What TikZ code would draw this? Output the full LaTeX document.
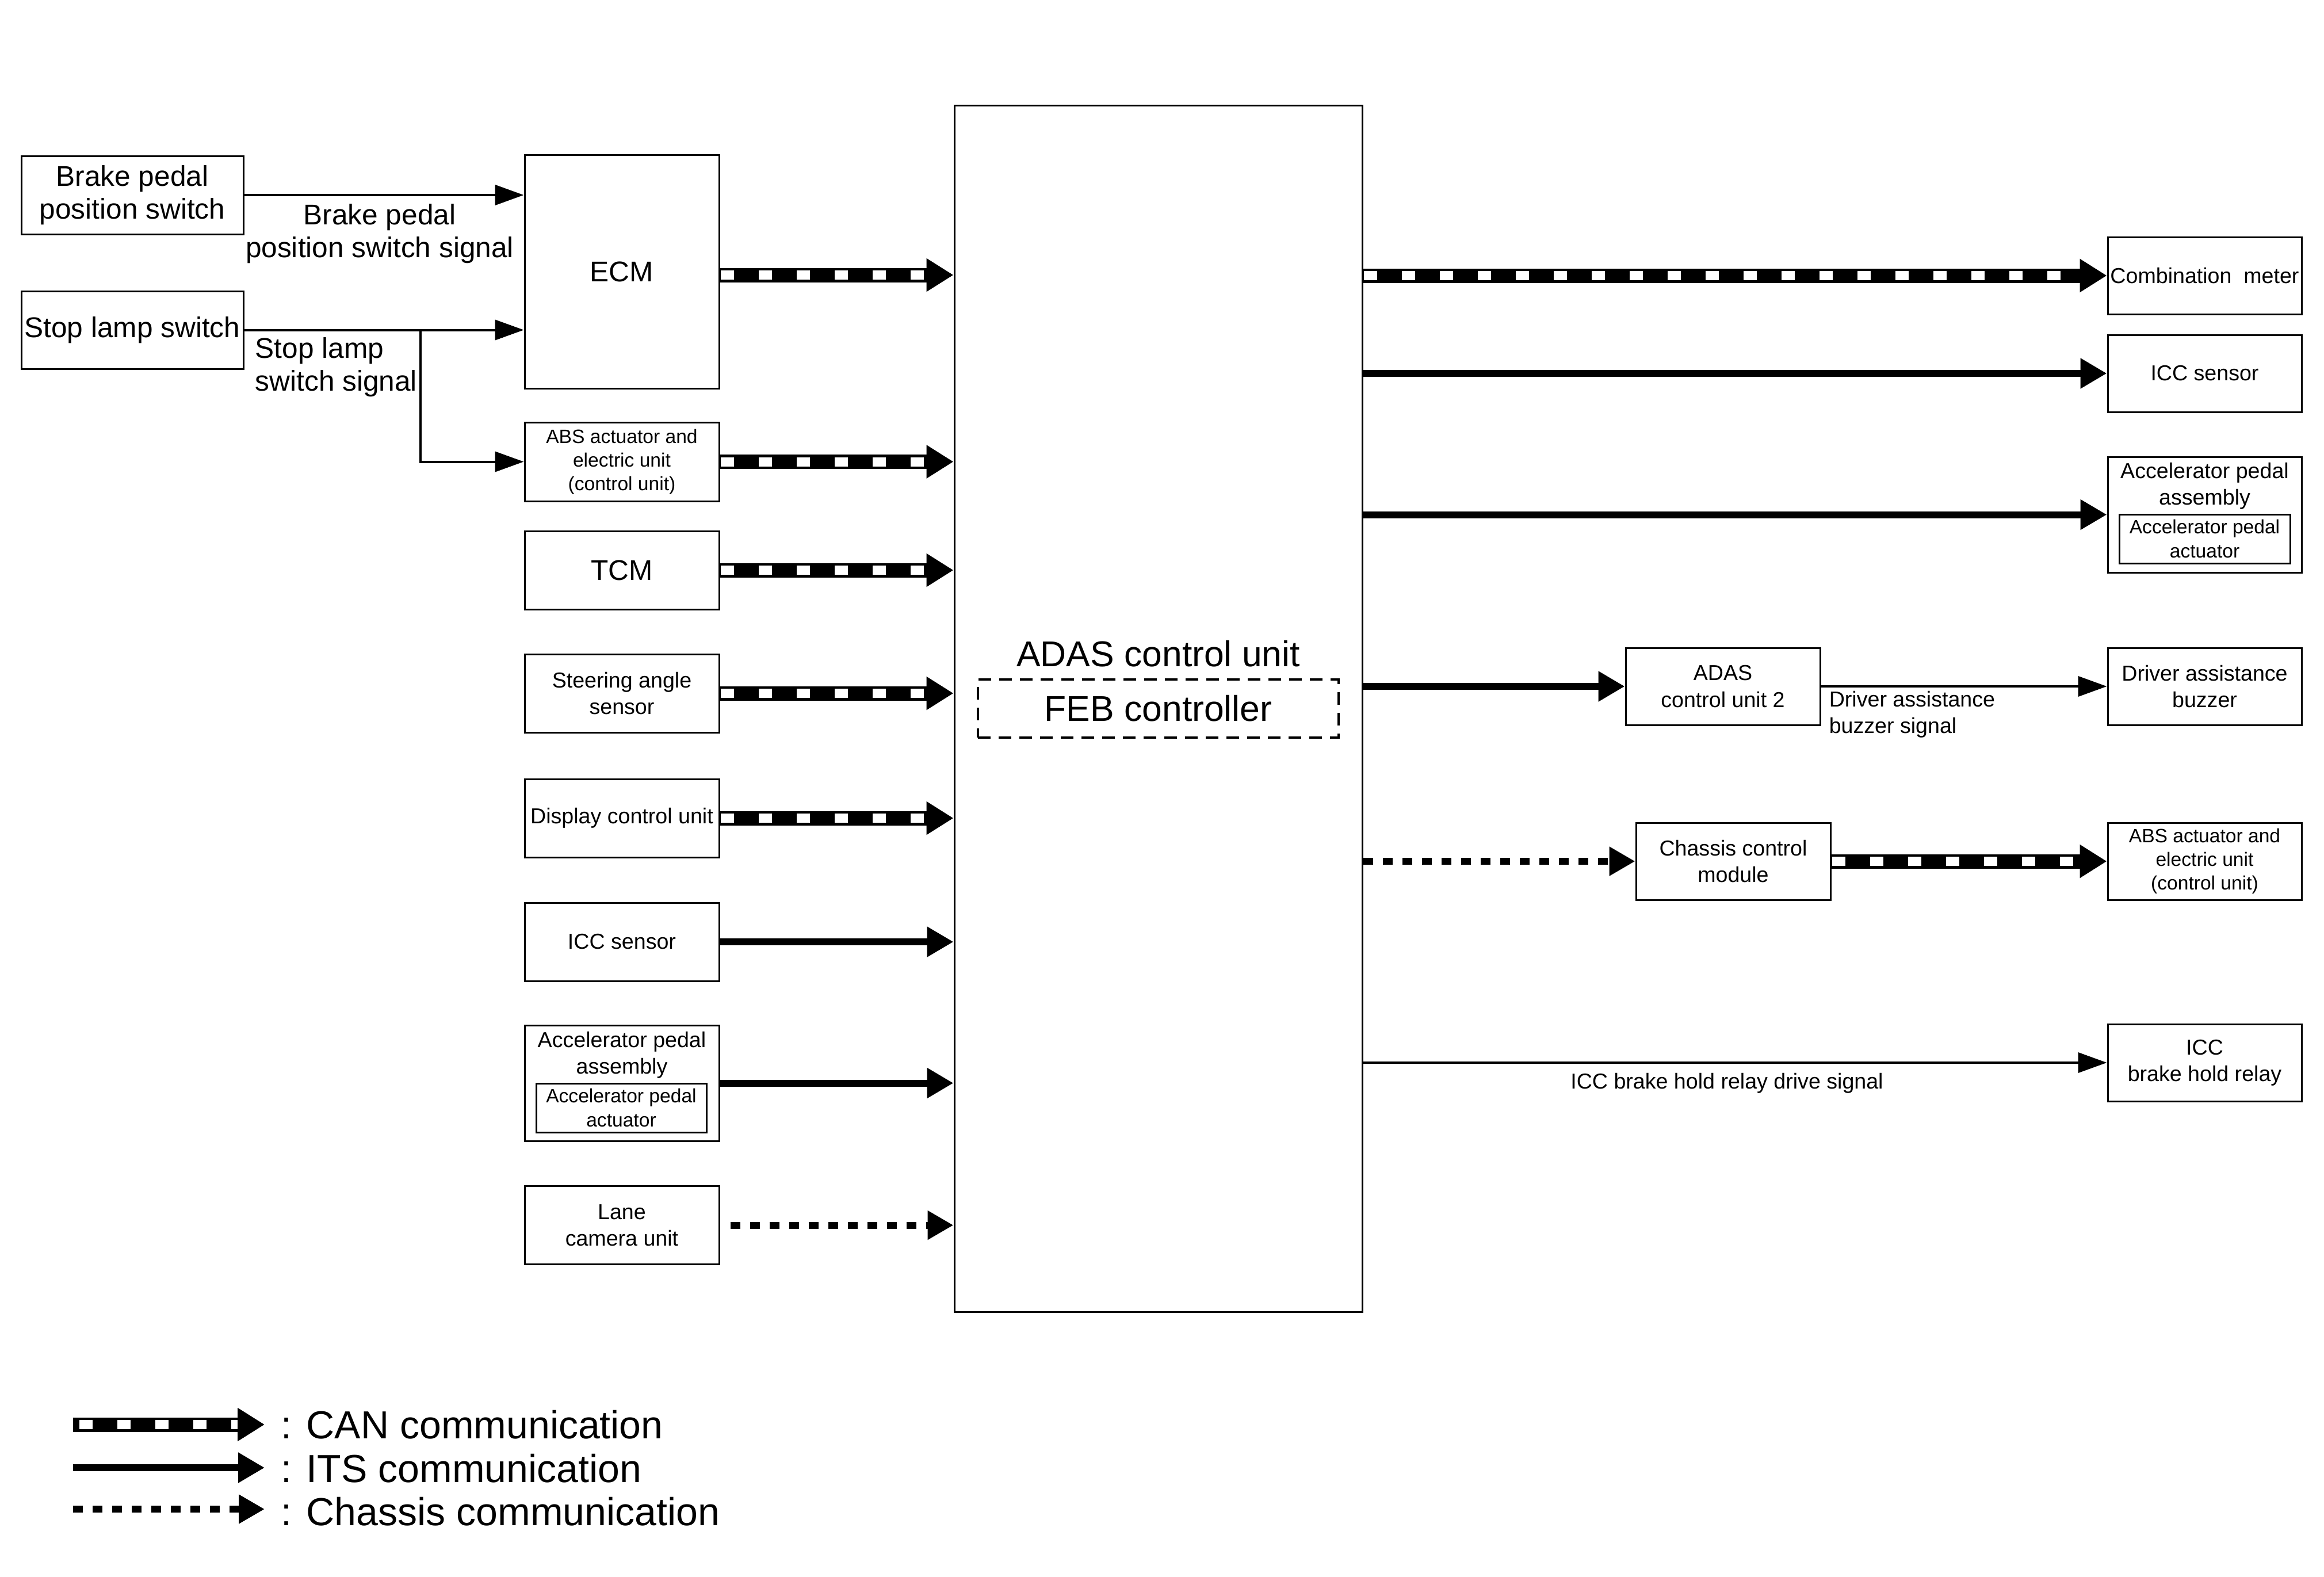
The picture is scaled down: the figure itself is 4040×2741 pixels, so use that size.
\documentclass[tikz,border=0pt]{standalone}
\usepackage{fontspec}
\setmainfont{Liberation Sans}
\usetikzlibrary{arrows.meta,calc}
\newcommand\szL{\fontsize{12.4pt}{14.25pt}\selectfont}
\newcommand\szM{\fontsize{9.4pt}{11.6pt}\selectfont}
\newcommand\szS{\fontsize{8.4pt}{10.3pt}\selectfont}
\newcommand\szA{\fontsize{15.6pt}{18pt}\selectfont}
\newcommand\szG{\fontsize{17pt}{20pt}\selectfont}
\tikzset{
  box/.style={draw, line width=0.75pt, inner sep=0pt, align=center, minimum width=84.5pt, minimum height=34pt},
  txt/.style={inner sep=0pt},
  thinarr/.style={line width=1pt, -{Triangle[length=12.5pt,width=8.75pt]}},
  its/.style={line width=3pt, -{Triangle[length=11.5pt,width=12.5pt]}},
  chas/.style={line width=3pt, dash pattern=on 4.25pt off 4.25pt, -{Triangle[length=11.25pt,width=12pt]}},
  canblk/.style={line width=6.25pt, -{Triangle[length=11.75pt,width=13.75pt]}},
  canwht/.style={line width=4pt, white, dash pattern=on 5.75pt off 10.75pt, shorten >=11.75pt, shorten <=0.4pt},
  febbox/.style={draw, line width=0.8pt, dash pattern=on 5.5pt off 3.5pt, inner sep=0pt, minimum width=156.75pt, minimum height=25.25pt}
}
\begin{document}
\begin{tikzpicture}[x=0.25pt,y=-0.25pt]
\useasboundingbox (0,0) rectangle (4040,2741);

% ---------- left column ----------
\node[box, minimum width=96.5pt, font=\szL] (brake) at (230,339) {Brake pedal\\position switch};
\node[box, minimum width=96.5pt, minimum height=33.75pt, font=\szL] (stop) at (230,573.5) {Stop lamp switch};
\node[box, minimum height=101.5pt, font=\szL] (ecm) at (1081,472) {ECM};
\node[box, minimum height=34.25pt, font=\szS] (absL) at (1081,802.5) {ABS actuator and\\electric unit\\(control unit)};
\node[box, font=\szL] (tcm) at (1081,991) {TCM};
\node[box, font=\szM] (steer) at (1081,1205) {Steering angle\\sensor};
\node[box, font=\szM] (disp) at (1081,1422) {Display control unit};
\node[box, font=\szM] (iccL) at (1081,1637) {ICC sensor};
\node[box, minimum height=50.25pt] (accL) at (1081,1882.5) {};
\node[txt, font=\szM, align=center] (accLt) at (1081,1834) {Accelerator pedal\\assembly};
\node[box, minimum width=74pt, minimum height=21.25pt, font=\szS] (accLi) at (1080,1925.5) {Accelerator pedal\\actuator};
\node[box, font=\szM] (lane) at (1081,2129.5) {Lane\\camera unit};

% ---------- ADAS control unit ----------
\node[box, minimum width=177.25pt, minimum height=524.25pt] (adas) at (2013.5,1231.5) {};
\node[txt, font=\szA] (adast) at (2013.5,1136) {ADAS control unit};
\node[febbox, font=\szA] (feb) at (2013.5,1231.5) {FEB controller};

% ---------- right column ----------
\node[box, minimum width=84.25pt, minimum height=33.5pt, font=\szM] (comb) at (3832.5,479) {Combination\ \ meter};
\node[box, minimum width=84.25pt, minimum height=33.5pt, font=\szM] (iccR) at (3832.5,649) {ICC sensor};
\node[box, minimum width=84.25pt, minimum height=50.25pt] (accR) at (3832.5,894.5) {};
\node[txt, font=\szM, align=center] (accRt) at (3832.5,845) {Accelerator pedal\\assembly};
\node[box, minimum width=74.25pt, minimum height=21.25pt, font=\szS] (accRi) at (3832.5,936.5) {Accelerator pedal\\actuator};
\node[box, minimum height=33.5pt, font=\szM] (adas2) at (2995,1193) {ADAS\\control unit 2};
\node[box, minimum width=84.25pt, minimum height=33.5pt, font=\szM] (buzz) at (3832.5,1193) {Driver assistance\\buzzer};
\node[box, minimum height=33.5pt, font=\szM] (ccm) at (3013,1497) {Chassis control\\module};
\node[box, minimum width=84.25pt, minimum height=33.5pt, font=\szS] (absR) at (3832.5,1497) {ABS actuator and\\electric unit\\(control unit)};
\node[box, minimum width=84.25pt, minimum height=33.5pt, font=\szM] (relay) at (3832.5,1847) {ICC\\brake hold relay};

% ---------- labels ----------
\node[txt, font=\szL, align=center] (lbl1) at (660,406) {Brake pedal\\position switch signal};
\node[txt, font=\szL, align=left, anchor=west] (lbl2) at (443,638) {Stop lamp\\switch signal};
\node[txt, font=\szM, align=left, anchor=west] (lbl3) at (3179,1242) {Driver assistance\\buzzer signal};
\node[txt, font=\szM] (lbl4) at (3002,1883) {ICC brake hold relay drive signal};

% ---------- left connectors ----------
\draw[thinarr] (brake.east) -- (brake.east -| ecm.west);
\draw[thinarr] (stop.east) -- (stop.east -| ecm.west);
\coordinate (br) at (731,573.5);
\draw[thinarr] (br) |- (absL.west);

\coordinate (ecmo) at ([yshift=-1.5pt]ecm.east);
\draw[canblk] (ecmo) -- (ecmo -| adas.west);
\draw[canwht] (ecmo) -- (ecmo -| adas.west);
\foreach \n in {absL,tcm,steer,disp}{
  \draw[canblk] (\n.east) -- (\n.east -| adas.west);
  \draw[canwht] (\n.east) -- (\n.east -| adas.west);
}
\draw[its] (iccL.east) -- (iccL.east -| adas.west);
\draw[its] (accL.east) -- (accL.east -| adas.west);
\draw[chas, shorten <=4.5pt] (lane.east) -- (lane.east -| adas.west);

% ---------- right connectors ----------
\draw[canblk] (comb.west -| adas.east) -- (comb.west);
\draw[canwht] (comb.west -| adas.east) -- (comb.west);
\draw[its] (iccR.west -| adas.east) -- (iccR.west);
\draw[its] (accR.west -| adas.east) -- (accR.west);
\draw[its] (adas2.west -| adas.east) -- (adas2.west);
\draw[thinarr] (adas2.east) -- (buzz.west);
\draw[chas] (ccm.west -| adas.east) -- (ccm.west);
\draw[canblk] (ccm.east) -- (absR.west);
\draw[canwht] (ccm.east) -- (absR.west);
\draw[thinarr] (relay.west -| adas.east) -- (relay.west);

% ---------- legend ----------
\coordinate (l1a) at (127,2476); \coordinate (l1b) at (460,2476);
\coordinate (l2a) at (127,2551); \coordinate (l2b) at (460,2551);
\coordinate (l3a) at (127,2623); \coordinate (l3b) at (460,2623);
\draw[canblk] (l1a) -- (l1b);
\draw[canwht, shorten <=2.75pt] (l1a) -- (l1b);
\draw[its] (l2a) -- (l2b);
\draw[chas] (l3a) -- (l3b);
\node[txt, font=\szG, anchor=west] (lg1) at (488,2476) {: CAN communication};
\node[txt, font=\szG, anchor=west] (lg2) at (488,2552) {: ITS communication};
\node[txt, font=\szG, anchor=west] (lg3) at (488,2627) {: Chassis communication};
\end{tikzpicture}
\end{document}
